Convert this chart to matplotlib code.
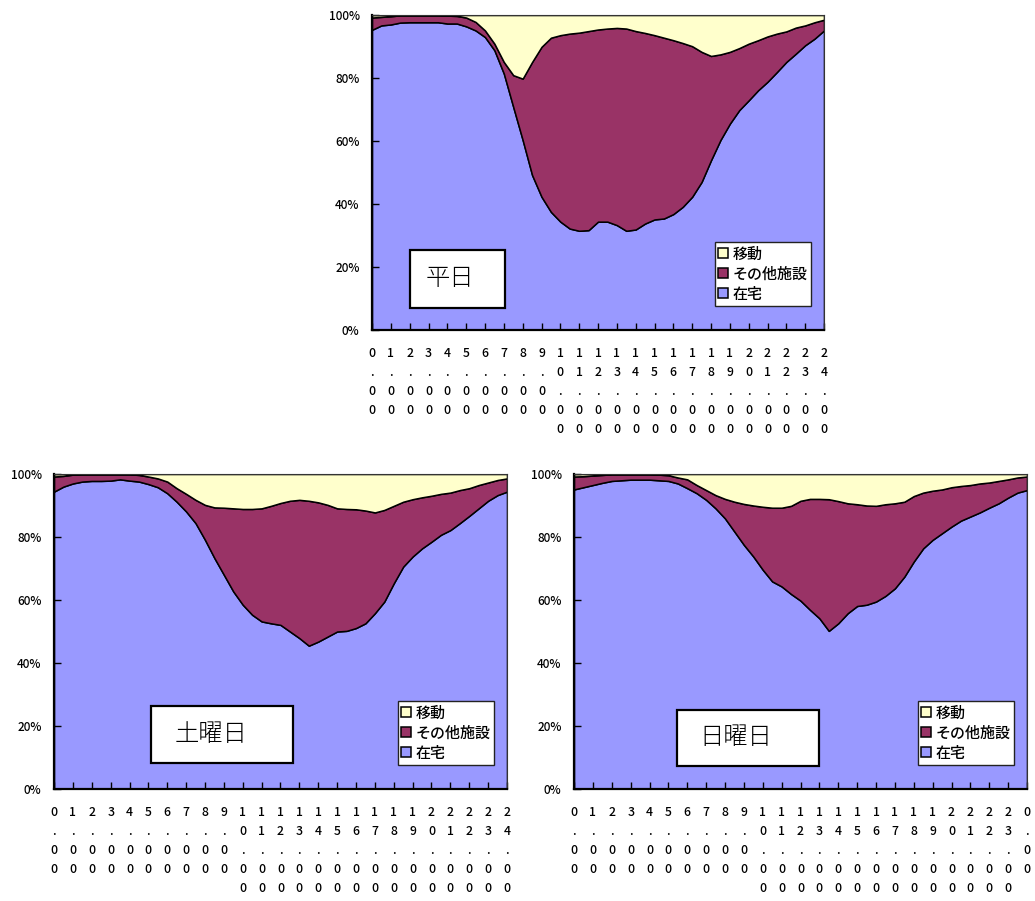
import matplotlib
matplotlib.use("Agg")
import matplotlib.pyplot as plt
from matplotlib.patches import Rectangle

plt.rcParams['font.family'] = ['Noto Sans CJK JP', 'DejaVu Sans']

# ---- data (shares in %, every half hour from 0:00 to 24:00) ----
hours = [h / 2 for h in range(49)]

series_names = ["在宅", "その他施設", "移動"]
series_colors = ["#9999FF", "#993366", "#FFFFCC"]

weekday_home = [95.3, 96.7, 97.0, 97.6, 97.7, 97.7, 97.7, 97.7, 97.3, 97.3, 96.4, 95.1, 93.0,
                88.8, 81.4, 70.8, 60.3, 49.2, 42.3, 37.5, 34.4, 32.2, 31.5, 31.7, 34.4,
                34.4, 33.3, 31.5, 31.9, 33.8, 35.1, 35.4, 36.8, 39.1, 42.3, 47.0, 53.9,
                60.3, 65.5, 69.8, 72.9, 76.1, 78.8, 81.9, 85.1, 87.7, 90.4, 92.5, 95.1]
weekday_other = [3.9, 2.7, 2.6, 2.3, 2.2, 2.2, 2.2, 2.2, 2.5, 2.4, 2.8, 2.7, 2.1,
                 2.1, 3.7, 10.1, 19.5, 35.9, 47.6, 55.3, 59.2, 61.9, 62.9, 63.2, 61.0,
                 61.3, 62.6, 64.2, 63.0, 60.5, 58.5, 57.4, 55.2, 52.0, 47.8, 41.3, 33.1,
                 27.2, 22.8, 19.7, 18.0, 15.9, 14.4, 12.2, 9.7, 8.3, 6.3, 5.2, 3.4]
weekday_move = [0.8, 0.6, 0.4, 0.1, 0.1, 0.1, 0.1, 0.1, 0.2, 0.3, 0.8, 2.2, 4.9,
                9.1, 14.9, 19.1, 20.2, 14.9, 10.1, 7.2, 6.4, 5.9, 5.6, 5.1, 4.6,
                4.3, 4.1, 4.3, 5.1, 5.7, 6.4, 7.2, 8.0, 8.9, 9.9, 11.7, 13.0,
                12.5, 11.7, 10.5, 9.1, 8.0, 6.8, 5.9, 5.2, 4.0, 3.3, 2.3, 1.5]

saturday_home = [94.4, 96.0, 97.0, 97.6, 97.8, 97.8, 97.9, 98.3, 97.9, 97.6, 96.8, 95.8, 93.9,
                 91.2, 88.1, 84.4, 79.1, 73.3, 68.0, 62.7, 58.5, 55.3, 53.2, 52.6, 52.1,
                 50.0, 47.9, 45.5, 46.8, 48.4, 50.0, 50.2, 51.1, 52.6, 55.8, 59.5, 65.3,
                 70.6, 73.8, 76.4, 78.5, 80.7, 82.2, 84.4, 86.7, 89.1, 91.5, 93.3, 94.4]
saturday_other = [4.8, 3.4, 2.8, 2.3, 2.1, 2.1, 2.0, 1.6, 2.0, 2.1, 2.4, 2.8, 3.7,
                  4.3, 5.6, 7.4, 11.1, 16.1, 21.3, 26.4, 30.4, 33.6, 35.9, 37.3, 38.7,
                  41.5, 43.9, 46.0, 44.2, 41.8, 39.1, 38.7, 37.7, 35.8, 32.0, 29.1, 24.6,
                  20.6, 18.2, 16.2, 14.6, 13.0, 11.9, 10.5, 8.8, 7.4, 5.8, 4.8, 4.2]
saturday_move = [0.8, 0.6, 0.2, 0.1, 0.1, 0.1, 0.1, 0.1, 0.1, 0.3, 0.8, 1.4, 2.4,
                 4.5, 6.3, 8.2, 9.8, 10.6, 10.7, 10.9, 11.1, 11.1, 10.9, 10.1, 9.2,
                 8.5, 8.2, 8.5, 9.0, 9.8, 10.9, 11.1, 11.2, 11.6, 12.2, 11.4, 10.1,
                 8.8, 8.0, 7.4, 6.9, 6.3, 5.9, 5.1, 4.5, 3.5, 2.7, 1.9, 1.4]

sunday_home = [95.1, 95.8, 96.5, 97.2, 97.8, 98.0, 98.2, 98.2, 98.2, 98.0, 97.8, 97.0, 95.5,
               93.9, 91.8, 89.1, 85.9, 81.7, 77.5, 73.8, 69.6, 65.9, 64.3, 61.9, 59.8,
               56.9, 54.2, 50.2, 52.6, 55.8, 58.1, 58.5, 59.5, 61.3, 63.7, 67.4, 72.2,
               76.4, 79.1, 81.2, 83.3, 85.2, 86.5, 87.8, 89.3, 90.7, 92.5, 94.1, 94.9]
sunday_other = [4.1, 3.5, 3.0, 2.5, 2.1, 1.9, 1.7, 1.7, 1.7, 1.8, 1.8, 1.9, 2.8,
                2.6, 3.1, 4.2, 6.2, 9.5, 13.0, 16.2, 20.0, 23.4, 25.0, 28.0, 31.7,
                35.2, 37.9, 41.8, 38.8, 34.9, 32.3, 31.5, 30.4, 29.1, 27.0, 23.8, 20.8,
                17.7, 15.6, 13.9, 12.5, 11.0, 10.0, 9.2, 8.0, 7.1, 5.8, 4.8, 4.3]
sunday_move = [0.8, 0.7, 0.5, 0.3, 0.1, 0.1, 0.1, 0.1, 0.1, 0.2, 0.4, 1.1, 1.7,
               3.5, 5.1, 6.7, 7.9, 8.8, 9.5, 10.0, 10.4, 10.7, 10.7, 10.1, 8.5,
               7.9, 7.9, 8.0, 8.6, 9.3, 9.6, 10.0, 10.1, 9.6, 9.3, 8.8, 7.0,
               5.9, 5.3, 4.9, 4.2, 3.8, 3.5, 3.0, 2.7, 2.2, 1.7, 1.1, 0.8]

tick_hours = list(range(25))
xlabels_std = ["%d.00" % h for h in range(25)]
xlabels_sun = ["%d.00" % h for h in range(24)] + ["0.00"]

ytick_vals = [0, 20, 40, 60, 80, 100]
ytick_labels = ["0%", "20%", "40%", "60%", "80%", "100%"]

W, H = 1035, 901
fig = plt.figure(figsize=(W / 100, H / 100), dpi=100)


def px_axes(x0, y0, x1, y1):
    return fig.add_axes([x0 / W, 1 - y1 / H, (x1 - x0) / W, (y1 - y0) / H])


def draw(ax, home, other, move, xlabels, title, box, text_x):
    polys = ax.stackplot(hours, home, other, move, colors=series_colors,
                         edgecolor="black", linewidth=1.1, labels=series_names)
    ax.set_xlim(0, 24)
    ax.set_ylim(0, 100)
    ax.set_xticks(tick_hours)
    ax.set_xticklabels(["\n".join(s) for s in xlabels], fontsize=8.8, linespacing=1.6,
                       fontweight="medium")
    ax.set_yticks(ytick_vals)
    ax.set_yticklabels(ytick_labels, fontsize=8.5, fontweight="medium")
    ax.tick_params(axis="x", direction="in", length=5, width=1, pad=12)
    ax.tick_params(axis="y", direction="in", length=5, width=1, pad=9)
    for side in ["left", "bottom"]:
        ax.spines[side].set_linewidth(1.6)
    for side in ["top", "right"]:
        ax.spines[side].set_linewidth(0.8)
        ax.spines[side].set_color("#333333")
    # title box
    bx0, by0, bx1, by1 = box
    ax.add_patch(Rectangle((bx0, by0), bx1 - bx0, by1 - by0, transform=ax.transAxes,
                           facecolor="white", edgecolor="black", linewidth=1.6, zorder=5))
    ax.text(text_x, (by0 + by1) / 2, title, transform=ax.transAxes, ha="center",
            va="center", fontsize=17.5, zorder=6, fontweight="light")
    handles = polys[::-1]
    labels = series_names[::-1]
    leg = ax.legend(handles, labels, loc="lower right", bbox_to_anchor=(0.972, 0.075),
                    fontsize=10.8, frameon=True, fancybox=False, framealpha=1,
                    edgecolor="#222222", handlelength=0.65, handleheight=0.65,
                    handletextpad=0.3, borderpad=0.25, labelspacing=0.2,
                    borderaxespad=0, prop={"weight": "medium", "size": 10.8})
    leg.get_frame().set_linewidth(1.0)
    leg.set_zorder(7)


ax1 = px_axes(372, 15, 824, 330)
draw(ax1, weekday_home, weekday_other, weekday_move, xlabels_std, "平日",
     (0.084, 0.070, 0.294, 0.254), 0.172)

ax2 = px_axes(54, 474, 507, 789)
draw(ax2, saturday_home, saturday_other, saturday_move, xlabels_std, "土曜日",
     (0.215, 0.084, 0.528, 0.264), 0.346)

ax3 = px_axes(574, 474, 1027, 789)
draw(ax3, sunday_home, sunday_other, sunday_move, xlabels_sun, "日曜日",
     (0.227, 0.074, 0.540, 0.251), 0.358)

fig.savefig("out.png", dpi=100)
